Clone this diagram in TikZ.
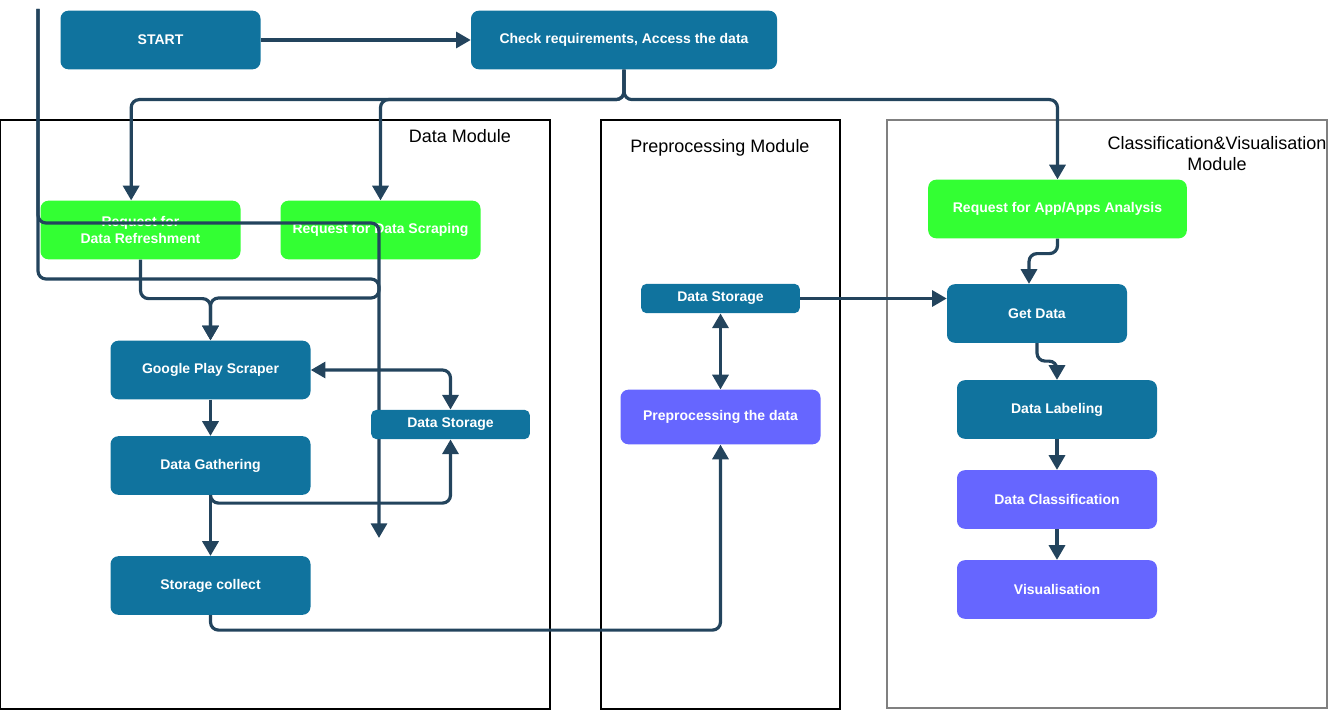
\documentclass[tikz,border=0pt]{standalone}
\usepackage{fontspec}
\setmainfont{Liberation Sans}
\usetikzlibrary{arrows.meta}
\definecolor{boxblue}{HTML}{10739E}
\definecolor{boxgreen}{HTML}{33FF33}
\definecolor{boxpurple}{HTML}{6666FF}
\definecolor{linkcol}{HTML}{23445D}
\definecolor{framegray}{HTML}{808080}

\begin{document}
\begin{tikzpicture}[x=0.75pt,y=-0.75pt,
    stepbox/.style={rectangle,rounded corners=6pt,fill=boxblue,text=white,
        font=\bfseries\fontsize{10.5}{12.75}\selectfont,align=center,inner sep=2pt,
        minimum width=150pt,minimum height=44pt},
    greenbox/.style={stepbox,fill=boxgreen},
    purplebox/.style={stepbox,fill=boxpurple},
    storebox/.style={stepbox,rounded corners=4pt,minimum width=119pt,minimum height=22pt},
    modframe/.style={draw=black,line width=0.9pt},
    modlabel/.style={font=\fontsize{13.5}{15.5}\selectfont,align=center,inner sep=0pt},
    flow/.style={draw=linkcol,line width=2.4pt,rounded corners=6pt,
        -{Triangle[width=12pt,length=11pt]}},
    flowboth/.style={flow,{Triangle[width=12pt,length=11pt]}-{Triangle[width=12pt,length=11pt]}}]
    \useasboundingbox (0,0) rectangle (1328,710);

    % module frames
    \draw[modframe] (0,120) rectangle (550,709);
    \draw[modframe] (601,120) rectangle (840,709);
    \draw[modframe,draw=framegray] (887,120) rectangle (1327,708);
    \node[modlabel] (datalbl) at (460,136) {Data Module};
    \node[modlabel] (prelbl) at (720,148) {Preprocessing Module};
    \node[modlabel] (clslbl) at (1217,153.5) {Classification\&Visualisation\\Module};

    % top row
    \node[stepbox] (start) at (160.5,40) {START};
    \node[stepbox,minimum width=229.5pt] (check) at (624,40) {Check requirements, Access the data};

    % data module
    \node[greenbox] (refresh) at (140.5,230) {Request for\\Data Refreshment};
    \node[greenbox] (scrape) at (380.5,230) {Request for Data Scraping};
    \node[stepbox] (scraper) at (210.5,370) {Google Play Scraper};
    \node[stepbox] (gather) at (210.5,465.5) {Data Gathering};
    \node[stepbox] (collect) at (210.5,585.5) {Storage collect};

    % line from the top left
    \coordinate (topin) at (38,9);
    \coordinate (bendA) at (379,223);
    \coordinate (bendB) at (379,279);
    \coordinate (dropend) at (379,538);
    \draw[flow] (topin) |- (bendA) -- (dropend);
    \draw[flow] (topin) |- (bendB) -- ++(0,19) -| (scraper.north);

    \node[storebox] (storeA) at (450.5,424.5) {Data Storage};

    % preprocessing module
    \node[storebox] (storeB) at (720.5,298.5) {Data Storage};
    \node[purplebox,minimum height=41pt] (prep) at (720.5,417) {Preprocessing the data};

    % classification module
    \node[greenbox,minimum width=194pt] (appreq) at (1057.5,209) {Request for App/Apps Analysis};
    \node[stepbox,minimum width=135pt] (getdata) at (1037,313.5) {Get Data};
    \node[stepbox] (label) at (1057,409.5) {Data Labeling};
    \node[purplebox] (classify) at (1057,499.5) {Data Classification};
    \node[purplebox] (visual) at (1057,589.5) {Visualisation};

    % connectors
    \draw[flow] (start) -- (check);
    \draw[flow] (check.south) -- ++(0,30) -| ([xshift=-7pt]refresh.north);
    \draw[flow] (check.south) -- ++(0,30) -| (scrape.north);
    \draw[flow] (check.south) -- ++(0,30) -| (appreq.north);
    \draw[flow] (refresh.south) -- ++(0,39) -| (scraper.north);
    \draw[flowboth] (scraper.east) -| (storeA.north);
    \draw[flow] (scraper) -- (gather);
    \draw[flow] (gather) -- (collect);
    \draw[flow] (gather.south) -- ++(0,8) -| (storeA.south);
    \draw[flow] (collect.south) -- ++(0,15) -| (prep.south);
    \draw[flowboth] (storeB) -- (prep);
    \draw[flow] (storeB.east) -- (storeB.east -| getdata.west);
    \draw[flow] (appreq.south) -- ++(0,15) -| ([xshift=-6pt]getdata.north);
    \draw[flow] (getdata.south) -- ++(0,18) -| (label.north);
    \draw[flow] (label) -- (classify);
    \draw[flow] (classify) -- (visual);
\end{tikzpicture}
\end{document}
